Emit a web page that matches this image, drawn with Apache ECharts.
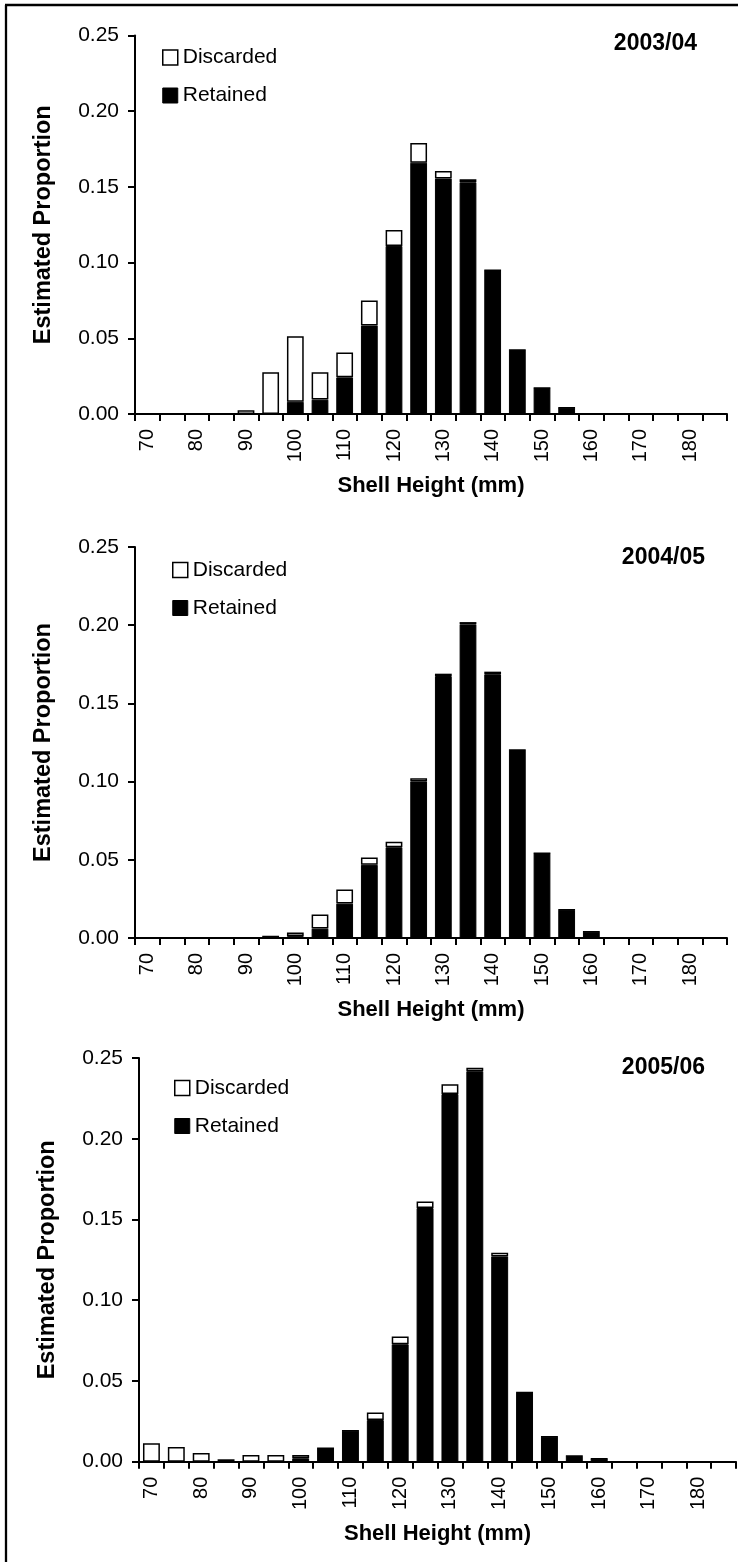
<!DOCTYPE html>
<html><head><meta charset="utf-8">
<script src="https://cdn.jsdelivr.net/npm/echarts@6/dist/echarts.min.js"></script>
<style>html,body{margin:0;padding:0;background:#fff}#c{width:738px;height:1562px}</style>
</head><body><div id="c"></div>
<script>
// Shell height classes (mm)
const categories = ['70','75','80','85','90','95','100','105','110','115','120','125','130','135','140','145','150','155','160','165','170','175','180','185'];
const years = ['2003/04','2004/05','2005/06'];
const yMin = 0, yMax = 0.25, yStep = 0.05;

// 2003/04
const retained0304  = [0,0,0,0,0,0,0.0081,0.0095,0.0242,0.0584,0.111,0.166,0.1555,0.153,0.0949,0.0423,0.0172,0.0042,0,0,0,0,0,0];
const discarded0304 = [0,0,0,0,0.0024,0.0275,0.0432,0.018,0.0165,0.0165,0.0105,0.013,0.005,0.002,0,0,0,0,0,0,0,0,0,0];
// 2004/05
const retained0405  = [0,0,0,0,0,0.001,0.0012,0.006,0.022,0.0468,0.058,0.1001,0.1675,0.2005,0.1686,0.1202,0.0542,0.018,0.004,0,0,0,0,0];
const discarded0405 = [0,0,0,0,0,0,0.0023,0.009,0.009,0.0047,0.0036,0.0021,0.0015,0.0015,0.0017,0,0,0,0,0,0,0,0,0];
// 2005/06
const retained0506  = [0,0,0,0,0,0,0.0021,0.0083,0.0192,0.0258,0.0727,0.1571,0.2277,0.2418,0.1271,0.0428,0.0155,0.0035,0.0019,0,0,0,0,0];
const discarded0506 = [0.0114,0.0091,0.0054,0.0015,0.0041,0.0041,0.002,0,0,0.0046,0.0048,0.004,0.0061,0.0021,0.0023,0,0,0,0,0,0,0,0,0];

const retainedSets = [retained0304, retained0405, retained0506];
const discardedSets = [discarded0304, discarded0405, discarded0506];

const FONT = 'Liberation Sans, Arial, sans-serif';
const grids = [
  {left:135, top:35.5, width:592, height:378.5},
  {left:135, top:547, width:592, height:391},
  {left:139, top:1058, width:597, height:403.7}
];
const legendPos = [
  {left:162, top:47},
  {left:172, top:559.5},
  {left:174, top:1077.5}
];
const yearPos = [
  {right:41, top:32},
  {right:33, top:546},
  {right:33, top:1056}
];

const option = {
  animation:false,
  backgroundColor:'#fff',
  textStyle:{fontFamily:FONT, color:'#000'},
  grid: grids.map(g => Object.assign({containLabel:false}, g)),
  title: years.map((y,i) => Object.assign({
    text:y, padding:0,
    textStyle:{fontFamily:FONT, fontSize:23, fontWeight:'bold', color:'#000'}
  }, yearPos[i])),
  legend: legendPos.map(p => Object.assign({
    orient:'vertical', itemWidth:15, itemHeight:15, itemGap:17, padding:0,
    selectedMode:false,
    textStyle:{fontFamily:FONT, fontSize:21, color:'#000', lineHeight:21},
    data:[
      {name:'Discarded', icon:'rect', itemStyle:{color:'#fff', borderColor:'#000', borderWidth:1.5}},
      {name:'Retained', icon:'rect', itemStyle:{color:'#000', borderColor:'#000', borderWidth:1}}
    ]
  }, p)),
  xAxis: grids.map((g,i) => ({
    type:'category', gridIndex:i, data:categories, boundaryGap:true,
    name:'Shell Height (mm)', nameLocation:'middle', nameGap:61,
    nameTextStyle:{fontFamily:FONT, fontSize:22, fontWeight:'bold', color:'#000'},
    axisLine:{lineStyle:{color:'#000', width:2}},
    axisTick:{show:true, interval:0, length:7, lineStyle:{color:'#000', width:2}},
    axisLabel:{interval:1, rotate:90, margin:15, fontFamily:FONT, fontSize:20, color:'#000'},
    splitLine:{show:false}
  })),
  yAxis: grids.map((g,i) => ({
    type:'value', gridIndex:i, min:yMin, max:yMax, interval:yStep,
    name:'Estimated Proportion', nameLocation:'middle', nameGap:79,
    nameTextStyle:{fontFamily:FONT, fontSize:23.5, fontWeight:'bold', color:'#000'},
    axisLine:{show:true, lineStyle:{color:'#000', width:2}},
    axisTick:{show:true, length:7, lineStyle:{color:'#000', width:2}},
    axisLabel:{margin:16, fontFamily:FONT, fontSize:21, color:'#000', formatter:v => v.toFixed(2)},
    splitLine:{show:false}
  })),
  series: [],
  graphic: [
    {type:'line', shape:{x1:6, y1:5, x2:6, y2:1562}, style:{stroke:'#000', lineWidth:2.3}, z:100},
    {type:'line', shape:{x1:5, y1:5, x2:738, y2:5}, style:{stroke:'#000', lineWidth:2.3}, z:100}
  ]
};

for (let i = 0; i < 3; i++) {
  option.series.push({
    name:'Retained', type:'bar', xAxisIndex:i, yAxisIndex:i, stack:'s'+i,
    data:retainedSets[i], barCategoryGap:'32%',
    itemStyle:{color:'#000', borderColor:'#000', borderWidth:1}
  });
  option.series.push({
    name:'Discarded', type:'bar', xAxisIndex:i, yAxisIndex:i, stack:'s'+i,
    data:discardedSets[i], barCategoryGap:'32%',
    itemStyle:{color:'#fff', borderColor:'#000', borderWidth:1.5}
  });
}

const chart = echarts.init(document.getElementById('c'), null, {renderer:'canvas'});
chart.setOption(option);
</script>
</body></html>
